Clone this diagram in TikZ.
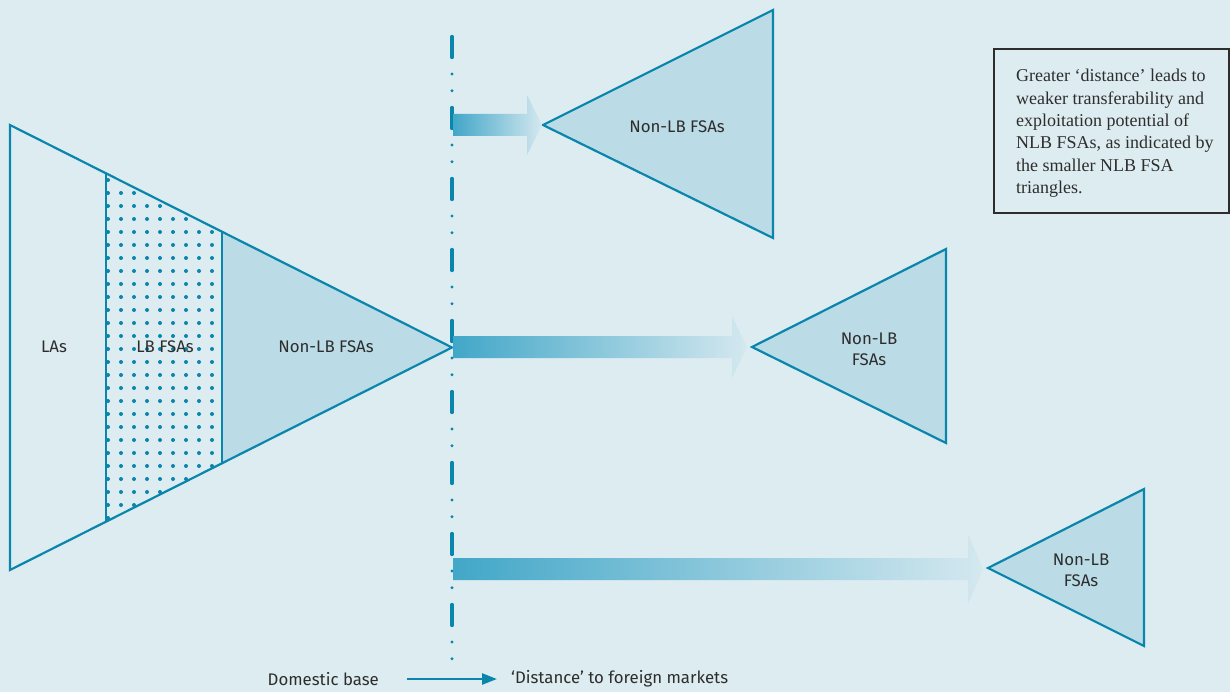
\documentclass[tikz,border=0pt]{standalone}
\usepackage{fontspec}
\setmainfont{Liberation Serif}
\setsansfont{Fira Sans}
\usetikzlibrary{positioning}
\usetikzlibrary{calc}
\usetikzlibrary{arrows.meta}
\definecolor{paleback}{RGB}{221,236,241}
\definecolor{edgeblue}{RGB}{10,133,172}
\definecolor{fillblue}{RGB}{187,220,230}
\definecolor{shaftblue}{RGB}{66,167,200}
\definecolor{fadeblue}{RGB}{212,232,239}
\definecolor{inkgray}{RGB}{45,45,45}
\tikzset{
    tri/.style={draw=edgeblue, line width=2.2pt, line join=miter},
    lbl/.style={font=\sffamily\fontsize{16.8}{21}\selectfont, text=inkgray, align=center, inner sep=0pt},
    notebox/.style={draw=inkgray, line width=2pt, minimum width=235pt, minimum height=164pt, inner sep=0pt},
    notetext/.style={font=\fontsize{18}{22.4}\selectfont, text=inkgray, align=left, inner sep=0pt},
    legarrow/.style={draw=edgeblue, line width=2.5pt, -{Triangle[length=15pt,width=11pt]}}
}
\newcommand\fadearrow[3]{%
    \shade[left color=shaftblue, right color=fadeblue]
        ($(#1)+(0,-11)$) -- ($(#2)+(-15,-11)$) -- ($(#2)+(-15,-#3)$) -- (#2)
        -- ($(#2)+(-15,#3)$) -- ($(#2)+(-15,11)$) -- ($(#1)+(0,11)$) -- cycle;}

\begin{document}
\begin{tikzpicture}[x=1pt, y=-1pt]
    \fill[paleback] (0,0) rectangle (1230,692);
    \useasboundingbox (0,0) rectangle (1230,692);

    % home triangle
    \coordinate (apex) at (452,347.5);
    \fill[fillblue] (222,231.5) -- (apex) -- (222,463) -- cycle;
    \begin{scope}
        \clip (106,173.2) -- (222,231.5) -- (222,463) -- (106,521.6) -- cycle;
        \foreach \i in {0,...,8} {
            \foreach \j in {0,...,26} {
                \fill[edgeblue] (108+13*\i, 180+13*\j) circle (2pt);
            }
        }
    \end{scope}
    \draw[tri] (10,125) -- (apex) -- (10,570) -- cycle;
    \draw[tri] (106,173.2) -- (106,521.6);
    \draw[tri] (222,231.5) -- (222,463);
    \node[lbl] (las) at (54,347) {LAs};
    \node[lbl] (lbf) at (165,347) {LB FSAs};
    \node[lbl] (nlb) at (326,347) {Non-LB FSAs};

    % border of the domestic base
    \draw[edgeblue, line width=3.3pt, line cap=round,
          dash pattern=on 21pt off 16.5pt on 0pt off 16.7pt on 0pt off 16.8pt]
        (452,36.5) -- (452,659);

    % foreign triangles
    \draw[tri, fill=fillblue] (543,125) -- (773,10) -- (773,238) -- cycle;
    \node[lbl] (far1) at (677,127) {Non-LB FSAs};
    \draw[tri, fill=fillblue] (752,347) -- (946,249) -- (946,443) -- cycle;
    \node[lbl] (far2) at (869,349) {Non-LB\\FSAs};
    \draw[tri, fill=fillblue] (988,568) -- (1144,489) -- (1144,646) -- cycle;
    \node[lbl] (far3) at (1081,570) {Non-LB\\FSAs};

    \coordinate (s1) at (453,125);
    \coordinate (e1) at (542,125);
    \coordinate (s2) at (453,347);
    \coordinate (e2) at (747,347);
    \coordinate (s3) at (453,569);
    \coordinate (e3) at (983,569);
    \fadearrow{s1}{e1}{30}
    \fadearrow{s2}{e2}{31}
    \fadearrow{s3}{e3}{35}

    % note
    \node[notebox] (note) at (1111.5,131) {};
    \node[notetext, anchor=north west] (notetxt) at (1016,69)
        {Greater ‘distance’ leads to\\weaker transferability and\\exploitation potential of\\NLB FSAs, as indicated by\\the smaller NLB FSA\\triangles.};

    % legend
    \node[lbl, anchor=east] (dom) at (379,679) {Domestic base};
    \node[lbl, anchor=west] (dist) at (511,679) {‘Distance’ to foreign markets};
    \draw[legarrow] ([xshift=28pt]dom.east) -- ([xshift=-14pt]dist.west);
\end{tikzpicture}
\end{document}
